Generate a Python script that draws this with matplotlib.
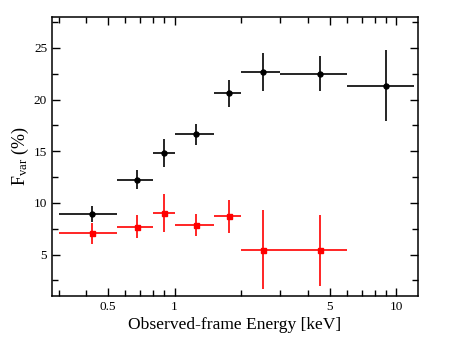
import matplotlib
matplotlib.use("Agg")
import matplotlib.pyplot as plt
from matplotlib.ticker import FixedLocator, NullFormatter, MultipleLocator

plt.rcParams["font.family"] = ["Liberation Serif", "DejaVu Serif"]
plt.rcParams["mathtext.fontset"] = "custom"
plt.rcParams["mathtext.rm"] = "Liberation Serif"
plt.rcParams["mathtext.it"] = "Liberation Serif:italic"

# energy bins (keV)
e_lo = [0.3, 0.55, 0.8, 1.0, 1.5, 2.0, 3.0, 6.0]
e_hi = [0.55, 0.8, 1.0, 1.5, 2.0, 3.0, 6.0, 12.0]
e_mid = [0.424, 0.674, 0.898, 1.25, 1.75, 2.5, 4.5, 9.0]

# black series
fvar_black = [8.94, 12.25, 14.86, 16.63, 20.6, 22.7, 22.5, 21.35]
err_black = [0.8, 0.9, 1.35, 1.05, 1.35, 1.85, 1.7, 3.45]

# red series (first 7 bins)
fvar_red = [7.06, 7.71, 9.06, 7.9, 8.71, 5.48, 5.42]
err_red = [1.05, 1.08, 1.85, 1.06, 1.6, 3.8, 3.45]

fig = plt.figure(figsize=(4.51, 3.49), dpi=100)
ax = fig.add_axes([0.1153, 0.1519, 0.8115, 0.7994])


def draw(n, y, yerr, color, marker):
    xm = e_mid[:n]
    xerr = [[m - lo for m, lo in zip(xm, e_lo[:n])],
            [hi - m for m, hi in zip(xm, e_hi[:n])]]
    ax.errorbar(xm, y, xerr=xerr, yerr=yerr, fmt=marker, color=color,
                ms=3.6, elinewidth=1.2, capsize=0, zorder=3)


draw(len(fvar_black), fvar_black, err_black, "black", "o")
draw(len(fvar_red), fvar_red, err_red, "red", "s")

ax.set_xscale("log")
ax.set_xlim(0.28, 12.5)
ax.set_ylim(1, 28)

ax.xaxis.set_major_locator(FixedLocator([0.5, 1, 5, 10]))
ax.set_xticklabels(["0.5", "1", "5", "10"])
ax.xaxis.set_minor_locator(FixedLocator([0.3, 0.4, 0.6, 0.7, 0.8, 0.9,
                                         2, 3, 4, 6, 7, 8, 9]))
ax.xaxis.set_minor_formatter(NullFormatter())
ax.yaxis.set_major_locator(MultipleLocator(5))
ax.yaxis.set_minor_locator(MultipleLocator(2.5))

ax.tick_params(which="both", direction="in", top=True, right=True,
               labelsize=9.5, width=1.0)
ax.tick_params(which="major", length=6)
ax.tick_params(which="minor", length=4)
for s in ax.spines.values():
    s.set_linewidth(1.1)

ax.set_xlabel("Observed-frame Energy [keV]", fontsize=12.6, labelpad=3)
ax.set_ylabel(r"F$_{\rm var}$ (%)", fontsize=13, labelpad=2)

fig.savefig("out.png", dpi=100)
